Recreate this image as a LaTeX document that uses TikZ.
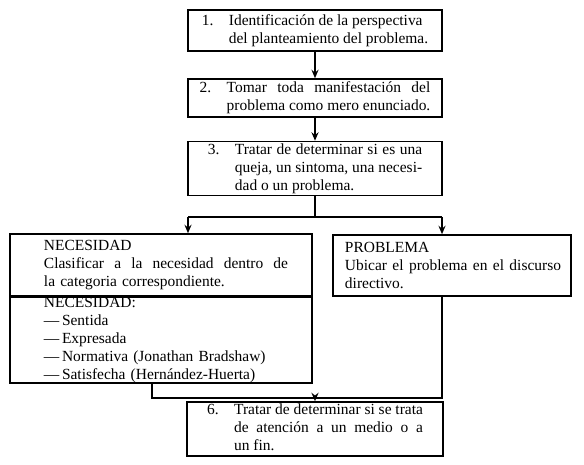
\documentclass[tikz,border=0pt]{standalone}
\usepackage{fontspec}
\setmainfont{Liberation Serif}
\usepackage{calc}
\usepackage{tikz}
\usetikzlibrary{calc,arrows.meta}

\newcommand{\justa}[2]{\makebox[#1][s]{\spaceskip=0.25em plus 1fil\relax #2}}

\tikzset{
  caja/.style={draw, line width=1.1pt, inner sep=0pt, align=left},
  linea/.style={line width=1.1pt},
}

\begin{document}
\begin{tikzpicture}[>={Stealth[length=6pt,width=5pt]}, x=0.025cm, y=-0.025cm, font=\fontsize{11}{12.8}\selectfont]

    \useasboundingbox (0,0) rectangle (584,465);

    \node[caja, minimum width=6.35cm, minimum height=1.025cm] (p1) at (315,30.5)
      {\begin{tabular}{@{}l@{\quad}l@{}}1. & Identificación de la perspectiva\\ & del planteamiento del problema.\end{tabular}};

    \node[caja, minimum width=6.35cm, minimum height=0.95cm] (p2) at (315,98)
      {\begin{tabular}{@{}l@{\quad}l@{}}2. & \justa{\widthof{problema como mero enunciado.}}{Tomar toda manifestación del}\\ & problema como mero enunciado.\end{tabular}};

    \node[caja, minimum width=6.35cm, minimum height=1.325cm] (p3) at (315,168.5)
      {\begin{tabular}{@{}l@{\quad}l@{}}3. & \justa{\widthof{queja, un sintoma, una necesi-}}{Tratar de determinar si es una}\\ & queja, un sintoma, una necesi-\\ & dad o un problema.\end{tabular}};

    % dos ramas
    \node[caja, text width=5.85cm, inner xsep=0.85cm, minimum height=1.55cm] (nec) at (161,265)
      {NECESIDAD\\ \justa{6.1cm}{Clasificar a la necesidad dentro de}\\ la categoria correspondiente.};
    \node[caja, text width=5.85cm, inner xsep=0.85cm, minimum height=2.125cm, anchor=north] (tipos) at (nec.south)
      {NECESIDAD:\\ ---\,Sentida\\ ---\,Expresada\\ ---\,Normativa (Jonathan Bradshaw)\\ ---\,Satisfecha (Hernández-Huerta)};

    \node[caja, text width=5.35cm, inner xsep=0.3cm, minimum height=1.525cm] (prob) at (452,265.5)
      {PROBLEMA\\ \justa{5.4cm}{Ubicar el problema en el discurso}\\ directivo.};

    \node[caja, minimum width=6.4cm, minimum height=1.2cm] (p6) at (315,429)
      {\begin{tabular}{@{}l@{\quad}l@{}}6. & Tratar de determinar si se trata\\ & \justa{\widthof{Tratar de determinar si se trata}}{de atención a un medio o a}\\ & un fin.\end{tabular}};

    \coordinate (rI) at (188,217);
    \coordinate (rD) at (442,217);
    \coordinate (uI) at (152,398);

    \draw[linea, ->] (p1) -- (p2);
    \draw[linea, ->] (p2) -- (p3);
    \draw[linea] (p3.south) -- (p3.south |- rI);
    \draw[linea] (rI) -- (rD);
    \draw[linea, ->] (rI) -- (rI |- nec.north);
    \draw[linea, ->] (rD) -- (rD |- prob.north);

    \draw[linea] (uI |- tipos.south) -- (uI) -- (uI -| rD) -- (rD |- prob.south);
    \draw[linea, ->] (p6.north |- uI) -- (p6.north);

\end{tikzpicture}
\end{document}
